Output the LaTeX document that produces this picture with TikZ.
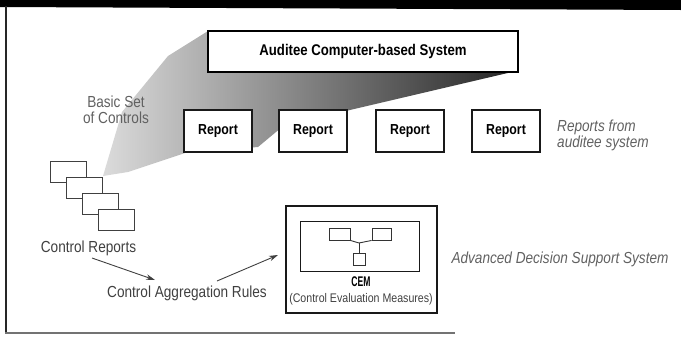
\documentclass[tikz,border=0pt]{standalone}
\usepackage{fontspec}
\setmainfont[FakeStretch=0.85]{Liberation Sans}
\usetikzlibrary{arrows.meta}
\tikzset{
  txt/.style={inner sep=0pt, font=\fontsize{16}{16}\selectfont, text=black!75},
  lbl/.style={inner sep=0pt, font=\fontsize{16}{16}\selectfont\itshape, text=black!62},
  rep/.style={draw=black!90, line width=1.6pt, fill=white, minimum width=68pt, minimum height=42pt, inner sep=0pt, font=\fontsize{14.5}{14.5}\selectfont\bfseries},
  sheet/.style={draw=black!75, line width=1pt, fill=white, minimum width=36pt, minimum height=21pt, inner sep=0pt},
  mini/.style={draw=black!80, line width=0.9pt, inner sep=0pt},
  arr/.style={-{Stealth[length=9pt,width=5.5pt]}, line width=0.9pt, draw=black!75},
}
\begin{document}
\begin{tikzpicture}[x=1pt,y=-1pt]
\useasboundingbox (0,0) rectangle (681,338);
% frame
\fill[black] (0,0) -- (681,0) -- (681,10) -- (0,7) -- cycle;
\draw[line width=2pt, black!85] (6,6) -- (6,334);
\draw[line width=1.5pt, black!55] (5,333) -- (455,333);
% shadow fan
\shade[left color=gray!28, middle color=gray!62, right color=black!85]
  (208,31) -- (512,72) -- (350,110) -- (282,127) -- (258,147) -- (185,153)
  -- (128,172) -- (103,176) -- (122,112) -- (168,56) -- cycle;
% system box
\node[draw=black, line width=2pt, fill=white, minimum width=310pt, minimum height=41pt, inner sep=0pt,
  font=\fontsize{15.5}{15.5}\selectfont\bfseries] (sys) at (363,51.5) {Auditee Computer-based System};
% reports
\node[rep] (r1) at (218,131) {Report};
\node[rep] (r2) at (313,131) {Report};
\node[rep] (r3) at (410,131) {Report};
\node[rep] (r4) at (506,131) {Report};
\node[lbl, anchor=west, align=left] (rlab) at (557,135) {Reports from\\auditee system};
% basic set
\node[txt, align=center, text=black!62] (basic) at (116,110) {Basic Set\\of Controls};
% control report sheets
\node[sheet] (c1) at (68,171.5) {};
\node[sheet] (c2) at (84,187.5) {};
\node[sheet] (c3) at (100,203.5) {};
\node[sheet] (c4) at (116,219.5) {};
\node[txt] (crep) at (88.5,248) {Control Reports};
\node[txt] (agg) at (187,293) {Control Aggregation Rules};
% CEM
\node[draw=black!90, line width=1.8pt, minimum width=151pt, minimum height=107pt, inner sep=0pt] (cemo) at (361.5,259.5) {};
\node[draw=black!90, line width=1.8pt, minimum width=119pt, minimum height=50pt, inner sep=0pt] (cemi) at (360,246.5) {};
\node[mini, minimum width=21pt, minimum height=12pt] (s1) at (339.5,234) {};
\node[mini, minimum width=19pt, minimum height=12pt] (s2) at (381.5,234) {};
\node[mini, minimum width=12pt, minimum height=12.5pt] (s3) at (359,259.5) {};
\coordinate (jn) at (359,243);
\draw[line width=0.9pt, black!80] (s1.south east) -- (jn) -- (s2.south west);
\draw[line width=0.9pt, black!80] (jn) -- (s3.north);
\node[inner sep=0pt, font=\fontsize{14}{14}\selectfont\bfseries] (cem) at (361,282) {\scalebox{0.72}[1]{CEM}};
\node[inner sep=0pt, font=\fontsize{12.5}{12.5}\selectfont, text=black!75] (cemt) at (361,299) {(Control Evaluation Measures)};
\node[lbl] (adss) at (560,259) {Advanced Decision Support System};
% arrows
\coordinate (a1s) at (92,258);
\coordinate (a1e) at (155,280);
\coordinate (a2s) at (217,281);
\coordinate (a2e) at (278,255);
\draw[arr] (a1s) -- (a1e);
\draw[arr] (a2s) -- (a2e);
\end{tikzpicture}
\end{document}
